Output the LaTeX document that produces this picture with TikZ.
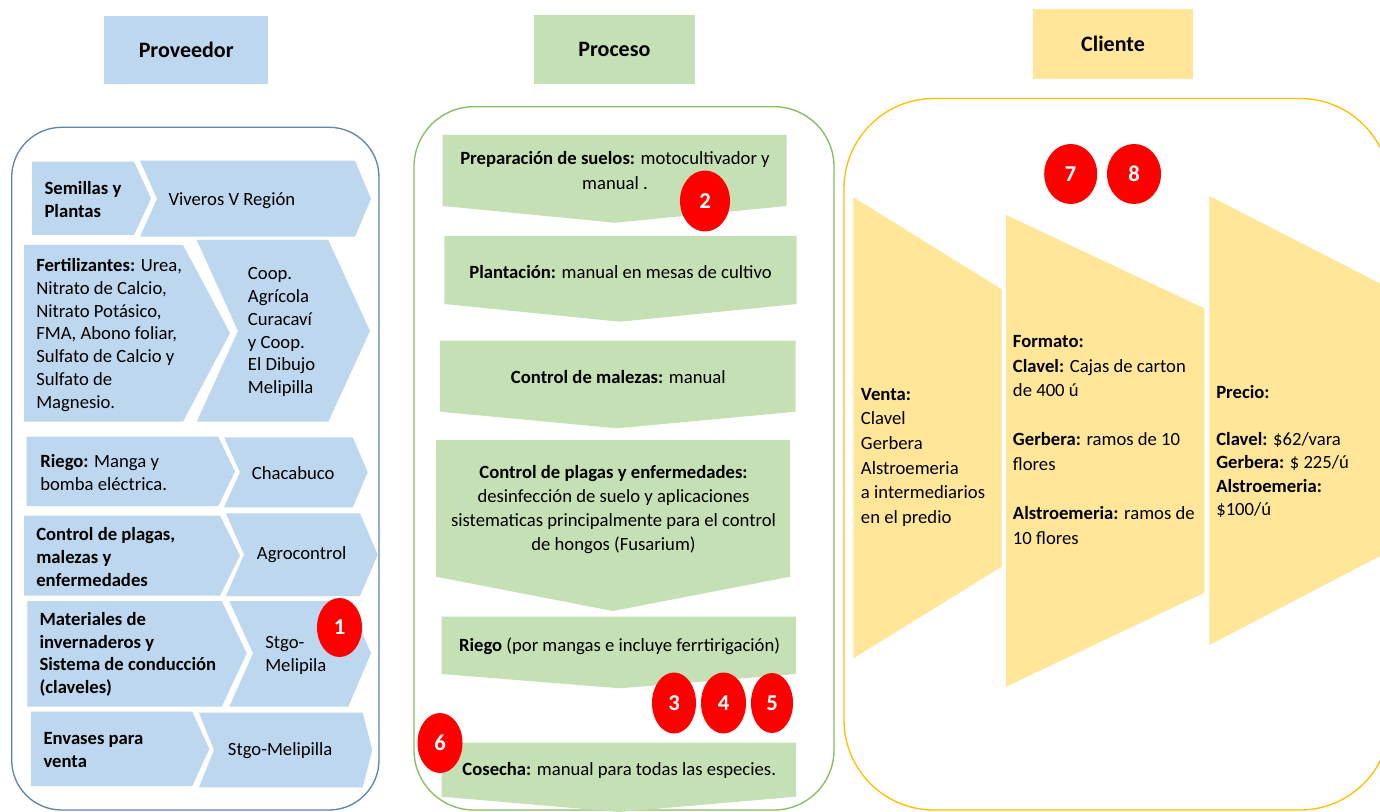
\documentclass[tikz,border=0pt]{standalone}
\usepackage{fontspec}
\setmainfont{Carlito}
\usetikzlibrary{shapes.geometric}

\definecolor{provfill}{HTML}{BDD7EE}
\definecolor{procfill}{HTML}{C5E0B4}
\definecolor{clifill}{HTML}{FFE699}
\definecolor{provline}{HTML}{5F86AD}
\definecolor{procline}{HTML}{86BD61}
\definecolor{cliline}{HTML}{FFC000}
\definecolor{badgered}{HTML}{FF0000}

\begin{document}
\begin{tikzpicture}[x=0.75pt,y=-0.75pt,
  hdr/.style={inner sep=0pt, font=\bfseries\fontsize{16.5}{19}\selectfont},
  txt/.style={inner sep=0pt, align=left, anchor=west, font=\fontsize{14}{17.1}\selectfont},
  ctxt/.style={inner sep=0pt, align=center, font=\fontsize{14}{18}\selectfont},
  rtxt/.style={inner sep=0pt, align=left, anchor=west, font=\fontsize{14}{18.4}\selectfont},
  badge/.style 2 args={ellipse, fill=badgered, text=white, inner sep=0pt,
    minimum width=#1*0.75pt, minimum height=#2*0.75pt,
    font=\bfseries\fontsize{17}{17}\selectfont},
  frame/.style={line width=1pt}
]
\useasboundingbox (0,0) rectangle (1380,812);
\fill[white] (0,0) rectangle (1380,812);
\clip (0,0) rectangle (1380,812);

% ---------- column headers ----------
\node[hdr, fill=provfill, minimum width=164.5*0.75pt, minimum height=68.6*0.75pt] (hprov) at (186.2,50) {Proveedor};
\node[hdr, fill=procfill, minimum width=160.2*0.75pt, minimum height=69.3*0.75pt] (hproc) at (614.4,49.6) {Proceso};
\node[hdr, fill=clifill, minimum width=159.4*0.75pt, minimum height=70.3*0.75pt] (hcli) at (1113,44.2) {Cliente};

% ---------- outer frames ----------
\draw[frame, draw=provline, rounded corners=37.5pt] (11.7,127.3) rectangle (379,810);
\draw[frame, draw=procline, rounded corners=45pt] (414,106.7) rectangle (834,810);
\draw[frame, draw=cliline, rounded corners=67.5pt] (844,98.5) rectangle (1390,810);

% ---------- supplier rows: pentagon + chevron ----------
\fill[provfill] (32,161.7) -- (134,161.7) -- (151,198.5) -- (134,235) -- (32,235) -- cycle;
\fill[provfill] (140,160.7) -- (355,160.7) -- (371,198.7) -- (355,236.7) -- (140,236.7) -- (157,198.7) -- cycle;

\fill[provfill] (24,245) -- (183,245) -- (230,333) -- (183,421.7) -- (24,421.7) -- cycle;
\fill[provfill] (196.7,240) -- (328.3,240) -- (370,331) -- (328.3,421.7) -- (196.7,421.7) -- (238,331) -- cycle;

\fill[provfill] (26.7,436.7) -- (218.3,436.7) -- (235,471.5) -- (218.3,506) -- (26.7,506) -- cycle;
\fill[provfill] (224,437.3) -- (352.7,437.3) -- (367.7,472.3) -- (352.7,507.3) -- (224,507.3) -- (240,472.3) -- cycle;

\fill[provfill] (24,515.7) -- (220,515.7) -- (240,555.7) -- (220,595.7) -- (24,595.7) -- cycle;
\fill[provfill] (226,513.3) -- (360,513.3) -- (377.7,554.7) -- (360,596) -- (226,596) -- (244,554.7) -- cycle;

\fill[provfill] (27.3,601) -- (221.7,601) -- (246.7,653.3) -- (221.7,706.7) -- (27.3,706.7) -- cycle;
\fill[provfill] (229.3,601) -- (348.3,601) -- (371,653.3) -- (348.3,706.7) -- (229.3,706.7) -- (253,653.3) -- cycle;

\fill[provfill] (31,711.7) -- (192.3,711.7) -- (209.3,749) -- (192.3,786) -- (31,786) -- cycle;
\fill[provfill] (199,712.7) -- (362.7,712.7) -- (372.3,750) -- (362.7,787.3) -- (199,787.3) -- (214,750) -- cycle;

% supplier texts
\node[txt] (sem) at (44.3,199.5) {\textbf{Semillas y}\\\textbf{Plantas}};
\node[txt] (viv) at (168.3,201) {Viveros V Región};
\node[txt] (fert) at (36,335) {\textbf{Fertilizantes:} Urea,\\Nitrato de Calcio,\\Nitrato Potásico,\\FMA, Abono foliar,\\Sulfato de Calcio y\\Sulfato de\\Magnesio.};
\node[txt] (coop) at (247.7,332.2) {Coop.\\Agrícola\\Curacaví\\y Coop.\\El Dibujo\\Melipilla};
\node[txt] (rieg) at (40,472.3) {\textbf{Riego:} Manga y\\bomba eléctrica.};
\node[txt] (chac) at (251.7,473.3) {Chacabuco};
\node[txt] (ctrl) at (36,556.8) {\textbf{Control de plagas,}\\\textbf{malezas y}\\\textbf{enfermedades}};
\node[txt] (agro) at (256.7,555) {Agrocontrol};
\node[txt] (mat) at (39.3,654.3) {\textbf{Materiales de}\\\textbf{invernaderos y}\\\textbf{Sistema de conducción}\\\textbf{(claveles)}};
\node[txt] (stgoa) at (265,655.3) {Stgo-\\Melipila};
\node[txt] (env) at (43.3,750.2) {\textbf{Envases para}\\\textbf{venta}};
\node[txt] (stgob) at (227.7,751) {Stgo-Melipilla};

% ---------- process steps: down-pointing blocks ----------
\fill[procfill] (442.7,135) -- (786.7,135) -- (786.7,206) -- (615,222.7) -- (442.7,206) -- cycle;
\fill[procfill] (444.3,236) -- (796.7,236) -- (796.7,304) -- (620,321.7) -- (444.3,304) -- cycle;
\fill[procfill] (440,340.7) -- (795.7,340.7) -- (795.7,411.7) -- (617,428.3) -- (440,411.7) -- cycle;
\fill[procfill] (436,440) -- (790,440) -- (790,576.7) -- (613,611) -- (436,576.7) -- cycle;
\fill[procfill] (441.7,616.7) -- (796,616.7) -- (796,674) -- (620,688.3) -- (441.7,674) -- cycle;
\fill[procfill] (441.7,742.7) -- (796,742.7) -- (796,796.7) -- (619,812) -- (441.7,796.7) -- cycle;

\node[ctxt, font=\fontsize{14}{18.75}\selectfont] (p1) at (615,170.8) {\textbf{Preparación de suelos:} motocultivador y\\manual .};
\node[ctxt] (p2) at (620.5,271.7) {\textbf{Plantación:} manual en mesas de cultivo};
\node[ctxt] (p3) at (618.3,376.7) {\textbf{Control de malezas:} manual};
\node[ctxt] (p4) at (613.5,510) {\textbf{Control de plagas y enfermedades:}\\desinfección de suelo y aplicaciones\\sistematicas principalmente para el control\\de hongos (Fusarium)};
\node[ctxt] (p5) at (619.5,646.7) {\textbf{Riego} (por mangas e incluye ferrtirigación)};
\node[ctxt] (p6) at (619.2,770) {\textbf{Cosecha:} manual para todas las especies.};

% ---------- client blocks ----------
\fill[clifill] (853.3,197.3) -- (1001.7,289.3) -- (1001.7,566.7) -- (853.3,658.3) -- cycle;
\fill[clifill] (1006,215) -- (1204.3,308.3) -- (1204.3,592.7) -- (1006,686.7) -- cycle;
\fill[clifill] (1209.3,196) -- (1400,293.6) -- (1400,545.6) -- (1209.3,645) -- cycle;

\node[rtxt] (venta) at (860.7,457.2) {\textbf{Venta:}\\Clavel\\Gerbera\\Alstroemeria\\a intermediarios\\en el predio};
\node[rtxt] (formato) at (1012.7,440) {\textbf{Formato:}\\\textbf{Clavel:} Cajas de carton\\de 400 ú\\\mbox{}\\\textbf{Gerbera:} ramos de 10\\flores\\\mbox{}\\\textbf{Alstroemeria:} ramos de\\10 flores};
\node[rtxt, font=\fontsize{14}{17.6}\selectfont] (precio) at (1216,451.3) {\textbf{Precio:}\\\mbox{}\\\textbf{Clavel:} \$62/vara\\\textbf{Gerbera:} \$ 225/ú\\\textbf{Alstroemeria:}\\\$100/ú};

% ---------- numbered markers ----------
\node[badge={45}{59}] (b1) at (339.5,627.5) {1};
\node[badge={50}{61}] (b2) at (705,201) {2};
\node[badge={44}{61}] (b3) at (674,703) {3};
\node[badge={45}{61}] (b4) at (723.5,703) {4};
\node[badge={42}{60}] (b5) at (772,703) {5};
\node[badge={45}{60}] (b6) at (440,743) {6};
\node[badge={53}{60}] (b7) at (1070.7,174) {7};
\node[badge={54}{60}] (b8) at (1134,174) {8};
\end{tikzpicture}
\end{document}
